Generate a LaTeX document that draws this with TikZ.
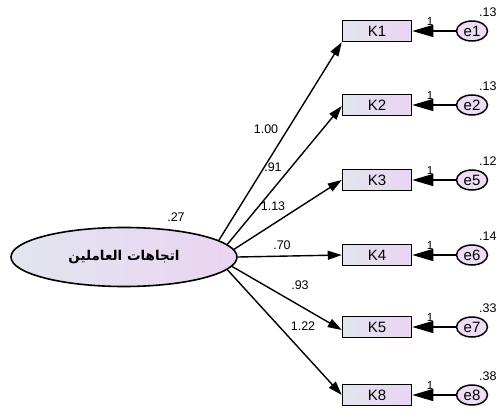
\documentclass[tikz,border=0pt]{standalone}
\usepackage{fontspec}
\setmainfont{Liberation Sans}
\newfontfamily\arabicfont[Script=Arabic]{DejaVu Sans}
\TeXXeTstate=1
\usepackage{tikz}
\usetikzlibrary{arrows.meta, shapes.geometric}
\usepackage{xcolor}
\definecolor{itemL}{RGB}{226, 229, 238}
\definecolor{itemR}{RGB}{234, 212, 243}
\definecolor{errFill}{RGB}{236, 222, 245}

\begin{document}
\begin{tikzpicture}[x=1pt, y=-1pt, font=\fontsize{12.5}{14}\selectfont,
  item/.style={draw, line width=1.5pt, minimum width=69pt, minimum height=21pt, inner sep=0pt,
    left color=itemL, right color=itemR, font=\fontsize{15}{17}\selectfont},
  err/.style={ellipse, draw, line width=1.5pt, minimum width=31pt, minimum height=20pt, inner sep=0pt,
    fill=errFill, font=\fontsize{15}{17}\selectfont},
  load/.style={line width=1.4pt, -{Triangle[length=14pt, width=9pt]}},
  errarrow/.style={line width=1.4pt, -{Triangle[length=21pt, width=12pt]}}]
  \clip (0,0) rectangle (497,417);

  % latent factor
  \node[ellipse, draw, line width=1.6pt, minimum width=226pt, minimum height=59pt,
    left color=itemL, right color=itemR] (att) at (124,257)
    {\arabicfont\bfseries\fontsize{13.5}{15}\selectfont\beginR اتجاهات العاملين\endR};
  \node (var0) at (176,217) {.27};

  % indicators with their error terms
  \foreach \k/\e/\y/\v in {1/1/31/.13, 2/2/105/.13, 3/5/180/.12, 4/6/255/.14, 5/7/327/.33, 8/8/395/.38} {
    \node[item] (K\k) at (377,\y) {K\k};
    \node[err] (e\e) at (472,\y) {e\e};
    \draw[errarrow] (e\e) -- (K\k.east);
    \node[font=\fontsize{11.5}{13}\selectfont] (one\k) at (430,\y-9) {1};
    \node[anchor=west, inner sep=0pt] (ve\e) at (479,\y-19) {\v};
  }

  % factor loadings
  \draw[load] (att.10) -- (K1.south west);
  \draw[load] (att.7) -- ([yshift=-1pt]K2.west);
  \draw[load] (att.4) -- (K3.west);
  \draw[load] (att.east) -- (K4.west);
  \draw[load] (att.-5) -- ([yshift=-3pt]K5.west);
  \draw[load] (att.-7) -- (K8.west);

  \node (l1) at (266,129) {1.00};
  \node (l2) at (273,167) {.91};
  \node (l3) at (273,206) {1.13};
  \node (l4) at (282,245) {.70};
  \node (l5) at (300,285) {.93};
  \node (l8) at (303,326) {1.22};
\end{tikzpicture}
\end{document}
